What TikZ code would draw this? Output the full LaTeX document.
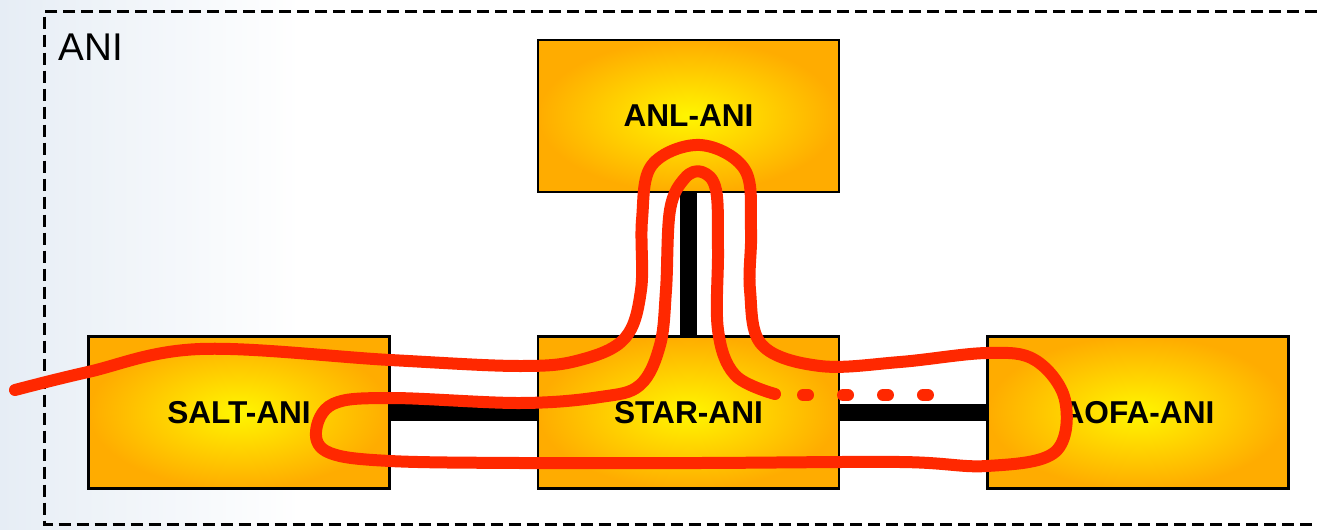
\documentclass[tikz,border=0pt]{standalone}
\usepackage{fontspec}
\setmainfont{Liberation Sans}
\usepackage{tikz}
\usetikzlibrary{arrows.meta, calc, positioning, shapes, backgrounds}

\definecolor{bgblue}{RGB}{230,237,245}
\definecolor{pathred}{RGB}{255,40,0}
\definecolor{boxyellow}{RGB}{255,246,0}
\definecolor{boxorange}{RGB}{255,172,0}

\begin{document}
\begin{tikzpicture}[x=0.02cm, y=-0.02cm,
    anibox/.style={draw, line width=0.05cm, shading=radial, inner color=boxyellow, outer color=boxorange, minimum width=6.02cm, minimum height=3.05cm, font=\fontsize{18}{20}\selectfont\bfseries},
    ptlink/.style={line width=0.34cm, black},
    pathline/.style={line width=0.24cm, pathred, line cap=round, line join=round}]
    \useasboundingbox (0,0) rectangle (1317,530);
    % Background
    \shade[left color=bgblue, right color=white] (0,0) rectangle (300,530);
    
    % Domain frame
    \draw[line width=0.06cm, dash pattern=on 0.24cm off 0.12cm] (1317,12) -- (44,12) -- (44,524) -- (1317,524);
    \node[anchor=base west, inner sep=0, font=\fontsize{22}{24}\selectfont] (ani) at (58,61) {ANI};
    
    % Links
    \draw[ptlink] (688.5,192) -- (688.5,336);
    \draw[ptlink] (390,412) -- (538,412);
    \draw[ptlink] (839,412) -- (987,412);
    
    % Nodes
    \node[anibox] (anl) at (688.5,116) {ANL-ANI};
    \node[anibox] (salt) at (239,412.5) {SALT-ANI};
    \node[anibox] (star) at (688.5,412.5) {STAR-ANI};
    \node[anibox] (aofa) at (1138,412.5) {AOFA-ANI};
    
    % Circuit path
    \draw[pathline] plot[smooth, tension=0.6] coordinates {(15,390) (88,372) (200,349) (390,360) (520,366) (580,360) (625,338) (641,290) (642,220) (652,165) (700,145) (745,170) (751,230) (750,290) (762,345) (820,366) (900,362) (987,353) (1035,360) (1065,400) (1055,452) (987,466) (900,462) (700,463) (520,463) (390,461) (330,453) (316,432) (333,404) (390,398) (520,403) (600,397) (640,385) (660,345) (666,290) (670,210) (685,178) (702,172) (716,190) (718,250) (718,330) (735,375) (775,394)};
    \draw[pathline, dash pattern=on 0.1cm off 0.7cm] (803,395) -- (935,395);
\end{tikzpicture}
\end{document}
